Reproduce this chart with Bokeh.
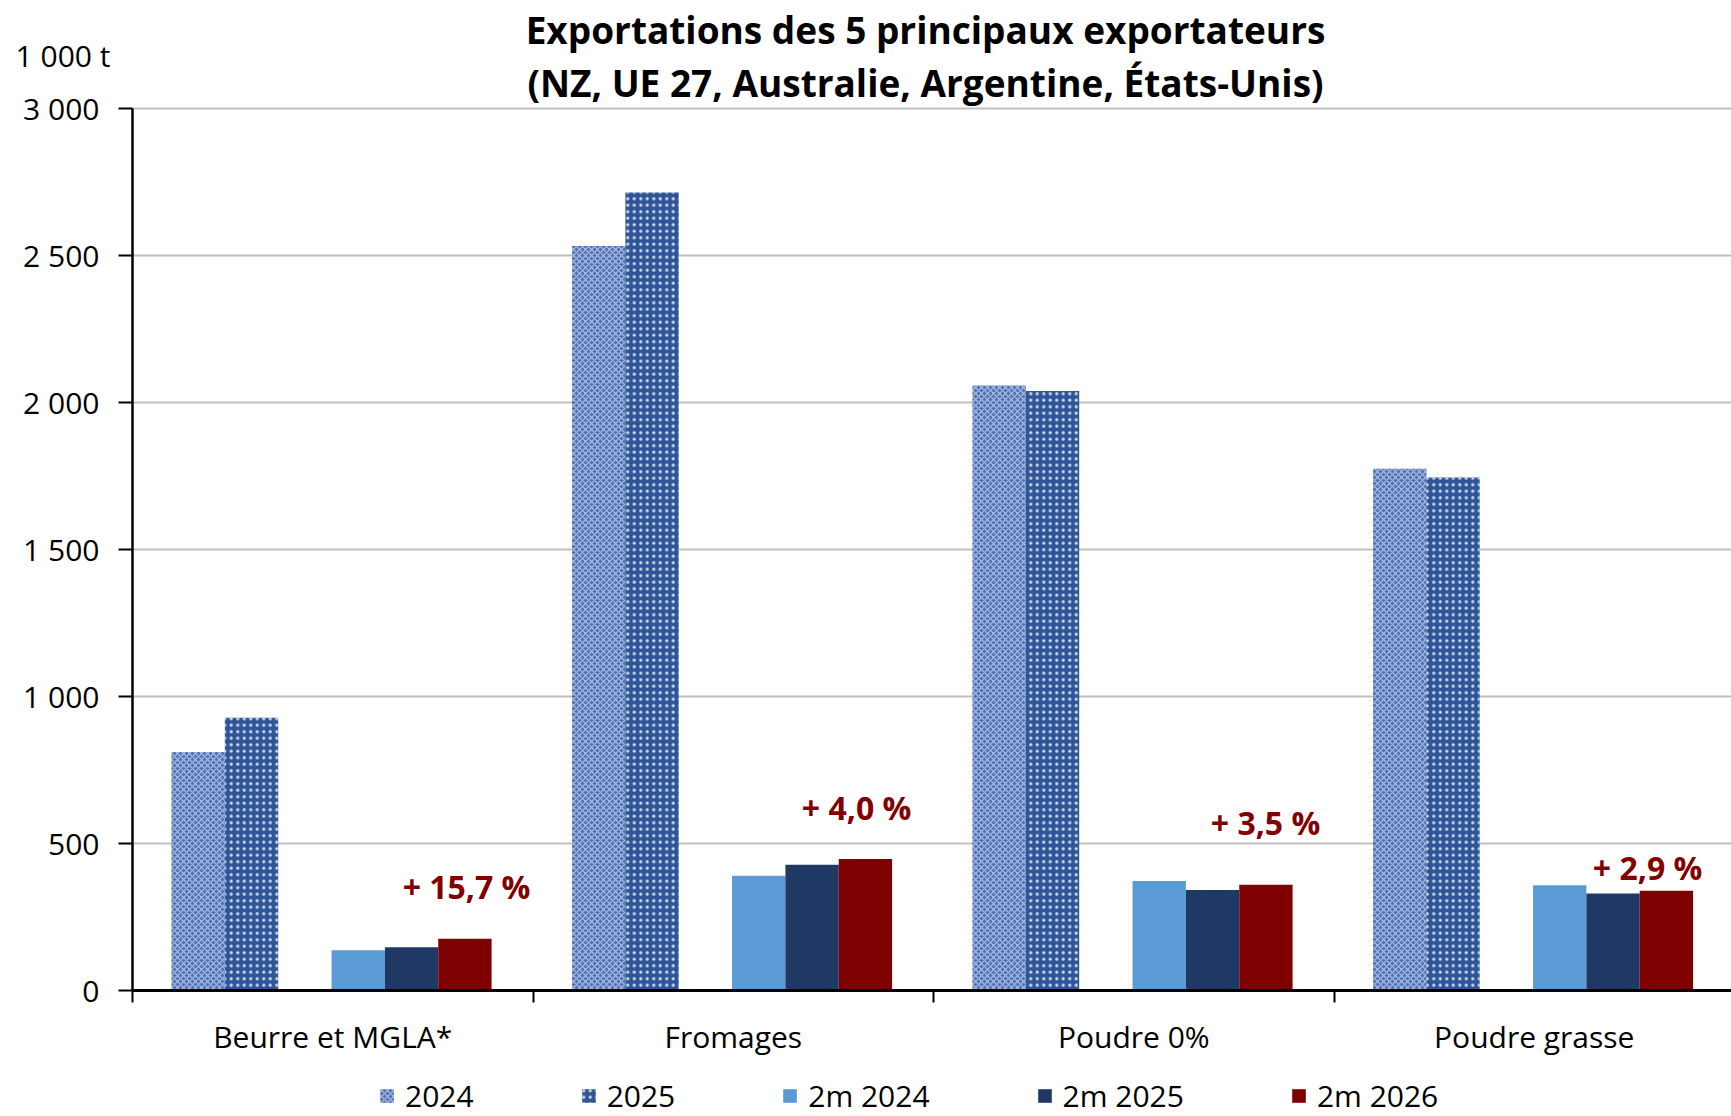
from bokeh.plotting import figure
from bokeh.models import Range1d, FixedTicker, Legend, LegendItem, Label, ColumnDataSource
from bokeh.embed import file_html
from bokeh.resources import INLINE

# ---- data ----
categories = ["Beurre et MGLA*", "Fromages", "Poudre 0%", "Poudre grasse"]
series_names = ["2024", "2025", "2m 2024", "2m 2025", "2m 2026"]
v_2024 = [811, 2532, 2058, 1775]
v_2025 = [928, 2714, 2039, 1745]
v_2m2024 = [137, 390, 372, 358]
v_2m2025 = [147, 428, 342, 330]
v_2m2026 = [176, 447, 360, 339]
pct_labels = ["+ 15,7 %", "+ 4,0 %", "+ 3,5 %", "+ 2,9 %"]
y_ticks = [0, 500, 1000, 1500, 2000, 2500, 3000]
y_tick_labels = ["0", "500", "1 000", "1 500", "2 000", "2 500", "3 000"]
title_lines = ["Exportations des 5 principaux exportateurs",
               "(NZ, UE 27, Australie, Argentine, États-Unis)"]
unit_label = "1 000 t"

FONT = "Open Sans"

# ---- layout ----
n = len(categories)
slot_w = 0.1332
first = 0.0974
slots = [0, 1, 3, 4, 5]

p = figure(width=1731, height=1116,
           x_range=Range1d(-0.3296, 3.9925), y_range=Range1d(-428.6, 3367.3),
           output_backend="svg", toolbar_location=None,
           min_border_left=0, min_border_right=0, min_border_top=0, min_border_bottom=0)
p.outline_line_color = None
p.background_fill_color = "white"
p.xgrid.visible = False

yt = FixedTicker(ticks=y_ticks, minor_ticks=[])
p.yaxis.ticker = yt
p.yaxis.fixed_location = 0
p.yaxis.bounds = (0, 3000)
g = p.ygrid[0]
g.ticker = yt
g.bounds = (0, 3000)
g.cross_bounds = (0, 4)
g.grid_line_color = "#BFBFBF"
g.grid_line_width = 2
p.yaxis.major_label_overrides = {t: l for t, l in zip(y_ticks, y_tick_labels)}
p.yaxis.axis_line_color = "black"
p.yaxis.axis_line_width = 2.5
p.yaxis.major_tick_line_color = "black"
p.yaxis.major_tick_line_width = 2
p.yaxis.major_tick_out = 14
p.yaxis.major_tick_in = 0
p.yaxis.minor_tick_line_color = None
p.yaxis.major_label_standoff = 19
p.yaxis.major_label_text_font = FONT
p.yaxis.major_label_text_font_size = "30px"
p.yaxis.major_label_text_color = "black"

centers = [i + 0.5 for i in range(n)]
p.xaxis.ticker = FixedTicker(ticks=centers, minor_ticks=list(range(n + 1)))
p.xaxis.fixed_location = 0
p.xaxis.bounds = (0, 4)
p.xaxis.major_label_overrides = {c: l for c, l in zip(centers, categories)}
p.xaxis.axis_line_color = "black"
p.xaxis.axis_line_width = 3
p.xaxis.major_tick_line_color = None
p.xaxis.major_tick_out = 12
p.xaxis.major_tick_in = 0
p.xaxis.minor_tick_line_color = "black"
p.xaxis.minor_tick_line_width = 2
p.xaxis.minor_tick_out = 12
p.xaxis.minor_tick_in = 0
p.xaxis.major_label_standoff = 14
p.xaxis.major_label_text_font = FONT
p.xaxis.major_label_text_font_size = "30px"
p.xaxis.major_label_text_color = "black"

all_values = [v_2024, v_2025, v_2m2024, v_2m2025, v_2m2026]
styles = [
    dict(fill_color="#4F72B8", hatch_pattern="x", hatch_color="white", hatch_alpha=0.55,
         hatch_scale=6, hatch_weight=1.2),
    dict(fill_color="#2E5597", hatch_pattern="dot", hatch_color="white", hatch_alpha=0.8,
         hatch_scale=6.5, hatch_weight=1.4),
    dict(fill_color="#5B9BD5"),
    dict(fill_color="#203864"),
    dict(fill_color="#7F0000"),
]
renderers = []
for k, (vals, st) in enumerate(zip(all_values, styles)):
    off = first + slot_w * (slots[k] + 0.5)
    src = ColumnDataSource(dict(x=[i + off for i in range(n)], top=vals))
    r = p.vbar(x="x", top="top", width=slot_w, bottom=0, source=src, line_color=None, **st)
    renderers.append(r)

# percent labels (above the 2m 2026 bars)
label_dx = [0.004, -0.022, -0.001, -0.047]
label_dy = [178, 175, 211, 79]
for i, txt in enumerate(pct_labels):
    bx = i + first + slot_w * (slots[4] + 0.5)
    p.add_layout(Label(x=bx + label_dx[i], y=v_2m2026[i] + label_dy[i], text=txt,
                       text_align="center", text_baseline="middle",
                       text_font=FONT, text_font_style="bold", text_font_size="32px",
                       text_color="#840000"))

# titles and unit
p.add_layout(Label(x=1.98, y=3268, text=title_lines[0], text_align="center", text_baseline="middle",
                   text_font=FONT, text_font_style="bold", text_font_size="37px", text_color="black"))
p.add_layout(Label(x=1.98, y=3087, text=title_lines[1], text_align="center", text_baseline="middle",
                   text_font=FONT, text_font_style="bold", text_font_size="37px", text_color="black"))
p.add_layout(Label(x=-0.292, y=3180, text=unit_label, text_align="left", text_baseline="middle",
                   text_font=FONT, text_font_size="30px", text_color="black"))

legend = Legend(items=[LegendItem(label=s, renderers=[r]) for s, r in zip(series_names, renderers)],
                orientation="horizontal", location=(378, 0),
                label_text_font=FONT, label_text_font_size="30px", label_text_color="black",
                glyph_width=17, glyph_height=17, label_standoff=10, spacing=106,
                padding=0, margin=0, border_line_color=None, background_fill_alpha=0)
p.add_layout(legend)

open("out.html", "w").write(file_html(p, INLINE))
